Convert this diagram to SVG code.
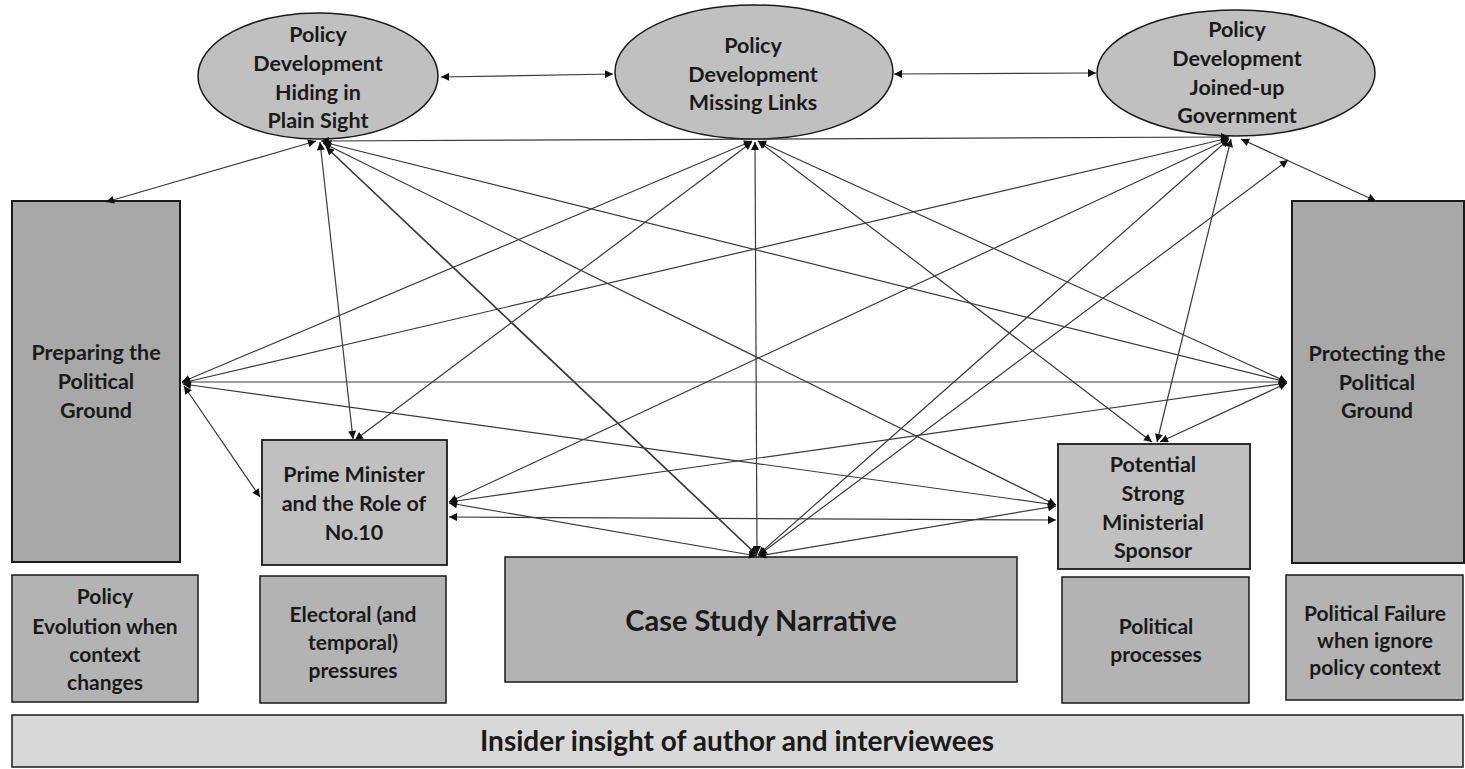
<svg xmlns="http://www.w3.org/2000/svg" width="1465" height="769" viewBox="0 0 1465 769">
  <style>
    .lbl { font-family: Lato, "Liberation Sans", sans-serif; font-weight: 700; font-size: 21.5px; fill: #1a1a1a; text-anchor: middle; }
    .sm { font-size: 21px; }
    .big { font-size: 29px; }
    .bar { font-size: 28px; }
    .oval { fill: #c0c0c0; stroke: #1a1a1a; stroke-width: 1.5; }
    .tall { fill: #a8a8a8; stroke: #1a1a1a; stroke-width: 2; }
    .mid { fill: #c0c0c0; stroke: #1a1a1a; stroke-width: 1.8; }
    .low { fill: #b3b3b3; stroke: #1a1a1a; stroke-width: 1.5; }
    .base { fill: #d8d8d8; stroke: #1a1a1a; stroke-width: 1.5; }
    .link { stroke: #3a3a3a; stroke-width: 1.2; fill: none; marker-start: url(#tip); marker-end: url(#tip); }
    .heavy { stroke-width: 1.7; }
  </style>
  <defs>
    <marker id="tip" viewBox="0 0 10 10" refX="10" refY="5" markerWidth="9" markerHeight="8" markerUnits="userSpaceOnUse" orient="auto-start-reverse">
      <path d="M0,0 L10,5 L0,10 Z" fill="#111"/>
    </marker>
  </defs>

  <rect width="1465" height="769" fill="#ffffff"/>

  <!-- Nodes -->
  <g id="hiding-in-plain-sight">
    <ellipse class="oval" cx="318" cy="76" rx="120" ry="63"/>
    <text class="lbl" x="318" y="42">Policy</text>
    <text class="lbl" x="318" y="71">Development</text>
    <text class="lbl" x="318" y="100">Hiding in</text>
    <text class="lbl" x="318" y="128">Plain Sight</text>
  </g>
  <g id="missing-links">
    <ellipse class="oval" cx="754" cy="72" rx="139" ry="67"/>
    <text class="lbl" x="753" y="53">Policy</text>
    <text class="lbl" x="753" y="82">Development</text>
    <text class="lbl" x="753" y="110">Missing Links</text>
  </g>
  <g id="joined-up-government">
    <ellipse class="oval" cx="1236" cy="73" rx="139" ry="63"/>
    <text class="lbl" x="1237" y="37">Policy</text>
    <text class="lbl" x="1237" y="66">Development</text>
    <text class="lbl" x="1237" y="95">Joined-up</text>
    <text class="lbl" x="1237" y="123">Government</text>
  </g>
  <g id="preparing-ground">
    <rect class="tall" x="12" y="201" width="168" height="361"/>
    <text class="lbl" x="96" y="360">Preparing the</text>
    <text class="lbl" x="96" y="389">Political</text>
    <text class="lbl" x="96" y="418">Ground</text>
  </g>
  <g id="protecting-ground">
    <rect class="tall" x="1292" y="201" width="172" height="362"/>
    <text class="lbl" x="1377" y="361">Protecting the</text>
    <text class="lbl" x="1377" y="390">Political</text>
    <text class="lbl" x="1377" y="418">Ground</text>
  </g>
  <g id="prime-minister">
    <rect class="mid" x="262" y="440" width="185" height="125"/>
    <text class="lbl" x="354" y="482">Prime Minister</text>
    <text class="lbl" x="354" y="511">and the Role of</text>
    <text class="lbl" x="354" y="540">No.10</text>
  </g>
  <g id="ministerial-sponsor">
    <rect class="mid" x="1058" y="444" width="192" height="125"/>
    <text class="lbl" x="1153" y="472">Potential</text>
    <text class="lbl" x="1153" y="501">Strong</text>
    <text class="lbl" x="1153" y="530">Ministerial</text>
    <text class="lbl" x="1153" y="558">Sponsor</text>
  </g>
  <g id="case-study">
    <rect class="low" x="505" y="557" width="512" height="125"/>
    <text class="lbl big" x="761" y="631">Case Study Narrative</text>
  </g>
  <g id="policy-evolution">
    <rect class="low" x="12" y="575" width="186" height="127"/>
    <text class="lbl sm" x="105" y="604">Policy</text>
    <text class="lbl sm" x="105" y="634">Evolution when</text>
    <text class="lbl sm" x="105" y="662">context</text>
    <text class="lbl sm" x="105" y="690">changes</text>
  </g>
  <g id="electoral-pressures">
    <rect class="low" x="260" y="576" width="186" height="127"/>
    <text class="lbl sm" x="353" y="622">Electoral (and</text>
    <text class="lbl sm" x="353" y="650">temporal)</text>
    <text class="lbl sm" x="353" y="678">pressures</text>
  </g>
  <g id="political-processes">
    <rect class="low" x="1062" y="577" width="187" height="126"/>
    <text class="lbl sm" x="1156" y="634">Political</text>
    <text class="lbl sm" x="1156" y="662">processes</text>
  </g>
  <g id="political-failure">
    <rect class="low" x="1286" y="575" width="177" height="125"/>
    <text class="lbl sm" x="1375" y="621">Political Failure</text>
    <text class="lbl sm" x="1375" y="648">when ignore</text>
    <text class="lbl sm" x="1375" y="675">policy context</text>
  </g>
  <g id="insider-insight">
    <rect class="base" x="12" y="715" width="1451" height="52"/>
    <text class="lbl bar" x="737" y="751">Insider insight of author and interviewees</text>
  </g>

  <!-- Connectors -->
  <g id="connectors">
    <line class="link" x1="441" y1="77" x2="613" y2="74"/>
    <line class="link" x1="894" y1="74" x2="1096" y2="73"/>
    <line class="link" x1="316" y1="141" x2="106" y2="202"/>
    <line class="link" x1="321" y1="141" x2="1229" y2="137"/>
    <line class="link" x1="320" y1="142" x2="353" y2="439"/>
    <line class="link heavy" x1="326" y1="147" x2="757" y2="555"/>
    <line class="link" x1="323" y1="143" x2="1056" y2="505"/>
    <line class="link" x1="323" y1="142" x2="1287" y2="382"/>
    <line class="link" x1="752" y1="141" x2="182" y2="382"/>
    <line class="link" x1="752" y1="142" x2="355" y2="440"/>
    <line class="link" x1="755" y1="142" x2="757" y2="554"/>
    <line class="link" x1="758" y1="141" x2="1152" y2="442"/>
    <line class="link" x1="758" y1="141" x2="1287" y2="382"/>
    <line class="link" x1="1229" y1="138" x2="182" y2="383"/>
    <line class="link" x1="1229" y1="139" x2="449" y2="502"/>
    <line class="link" x1="1229" y1="139" x2="758" y2="555"/>
    <line class="link" x1="1231" y1="139" x2="1157" y2="442"/>
    <line class="link" x1="1241" y1="139" x2="1376" y2="201"/>
    <line class="link" x1="182" y1="382" x2="1287" y2="382"/>
    <line class="link" x1="184" y1="386" x2="260" y2="497"/>
    <line class="link" x1="183" y1="384" x2="1056" y2="505"/>
    <line class="link" x1="449" y1="502" x2="1287" y2="383"/>
    <line class="link" x1="449" y1="503" x2="757" y2="556"/>
    <line class="link" x1="449" y1="517" x2="1056" y2="520"/>
    <line class="link" x1="758" y1="556" x2="1056" y2="506"/>
    <line class="link" x1="1160" y1="442" x2="1287" y2="383"/>
    <line class="link" x1="759" y1="555" x2="1288" y2="160"/>
  </g>
</svg>
